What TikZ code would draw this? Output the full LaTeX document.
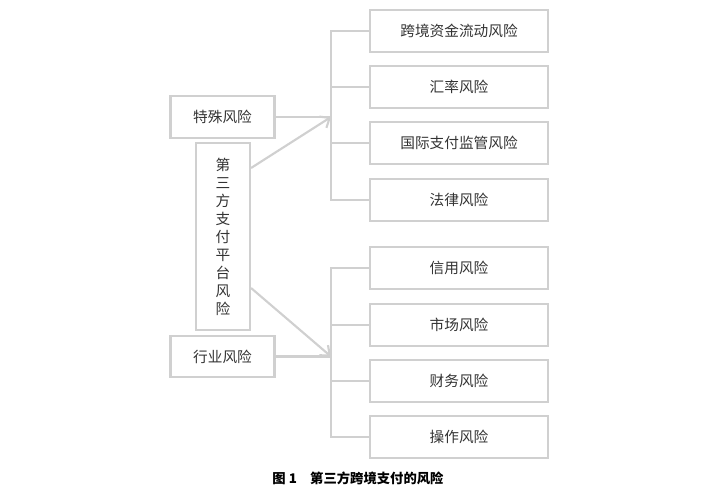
\documentclass[tikz,border=0pt]{standalone}
\usepackage{fontspec}
\setmainfont{Noto Sans CJK SC}
\usetikzlibrary{arrows.meta}
\definecolor{ln}{HTML}{D0D0D0}
\definecolor{tx}{HTML}{333333}
\begin{document}
\begin{tikzpicture}[x=0.75pt,y=-0.75pt,
  bx/.style={draw=ln,line width=1.6pt,minimum width=133.5pt,minimum height=31pt,text=tx,font=\fontsize{11}{13}\selectfont,inner sep=0pt},
  lb/.style={draw=ln,line width=1.6pt,minimum width=78pt,minimum height=31pt,text=tx,font=\fontsize{11}{13}\selectfont,inner sep=0pt},
  cn/.style={draw=ln,line width=1.6pt},
  ar/.style={cn,-{Straight Barb[length=6pt,width=10pt]}}]
\useasboundingbox (0,0) rectangle (716,500);
\node[lb] (s) at (222.5,117) {特殊风险};
\node[lb] (h) at (222.5,356.5) {行业风险};
\node[draw=ln,line width=1.6pt,minimum width=40.5pt,minimum height=140pt,text=tx,font=\fontsize{11}{13.5}\selectfont,align=center,inner sep=0pt] (v) at (223,236.5) {第\\三\\方\\支\\付\\平\\台\\风\\险};
\foreach \n/\y/\t in {a1/31/跨境资金流动风险,a2/87/汇率风险,a3/143/国际支付监管风险,a4/200/法律风险,b1/268/信用风险,b2/325/市场风险,b3/381/财务风险,b4/437/操作风险}
  \node[bx] (\n) at (459,\y) {\t};
\coordinate (ta) at (331,31); \coordinate (tb) at (331,200);
\coordinate (ua) at (331,268); \coordinate (ub) at (331,437);
\coordinate (ja) at (331,117); \coordinate (jb) at (331,356.5);
\draw[cn] (a1.west) -- (ta) -- (tb) -- (a4.west);
\draw[cn] (a2.west) -- (331,87); \draw[cn] (a3.west) -- (331,143);
\draw[cn] (b1.west) -- (ua) -- (ub) -- (b4.west);
\draw[cn] (b2.west) -- (331,325); \draw[cn] (b3.west) -- (331,381);
\draw[cn] (s.east) -- (ja); \draw[cn] (h.east) -- (jb);
\draw[ar] (v.east |- 0,168) -- (ja);
\draw[ar] (v.east |- 0,288) -- (jb);
\node[text=black,font=\fontsize{10}{12}\selectfont\bfseries] (cap) at (358,478) {图 1\quad 第三方跨境支付的风险};
\end{tikzpicture}
\end{document}
